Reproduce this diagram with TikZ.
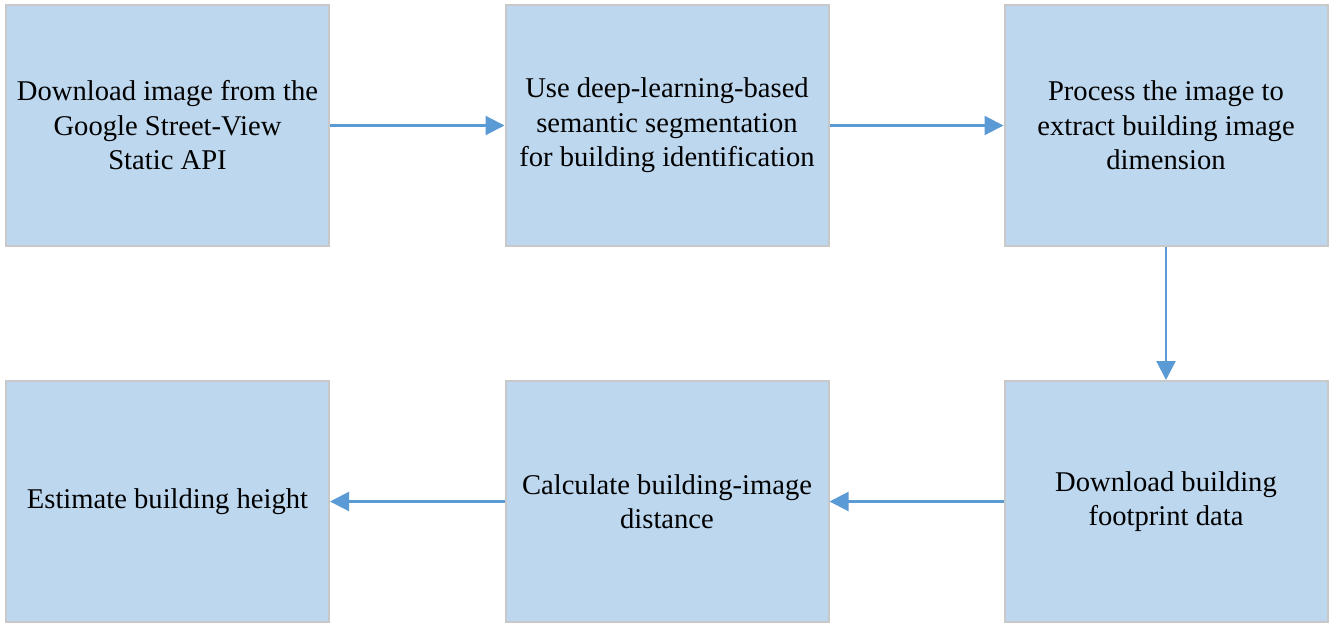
\documentclass[tikz,border=0pt]{standalone}
\usepackage{fontspec}
\setmainfont{Liberation Serif}
\usetikzlibrary{arrows.meta}
\definecolor{boxfill}{HTML}{BDD7EE}
\definecolor{boxline}{HTML}{C8C8C8}
\definecolor{arrowc}{HTML}{5B9BD5}
\tikzset{
  stepbox/.style={draw=boxline, line width=2pt, fill=boxfill, minimum width=323pt, minimum height=241pt, inner sep=0pt, align=center, font=\fontsize{28.6}{34.5}\selectfont},
  flow/.style={draw=arrowc, line width=2.2pt, -{Triangle[length=19pt,width=19pt]}}
}
\begin{document}
\begin{tikzpicture}[x=1pt,y=-1pt]
\useasboundingbox (0,0) rectangle (1330,624);
\node[stepbox] (a) at (167.5,125.5) {Download image from the\\Google Street-View\\Static API};
\node[stepbox] (b) at (667,125.5) {Use deep-learning-based\\semantic segmentation\\for building identification};
\node[stepbox] (c) at (1166,125.5) {Process the image to\\extract building image\\dimension};
\node[stepbox] (d) at (1166,501.5) {Download building\\footprint data};
\node[stepbox] (e) at (667,501.5) {Calculate building-image\\distance};
\node[stepbox] (f) at (167.5,501.5) {Estimate building height};
\draw[flow] (a) -- (b);
\draw[flow] (b) -- (c);
\draw[flow] (c) -- (d);
\draw[flow] (d) -- (e);
\draw[flow] (e) -- (f);
\end{tikzpicture}
\end{document}
